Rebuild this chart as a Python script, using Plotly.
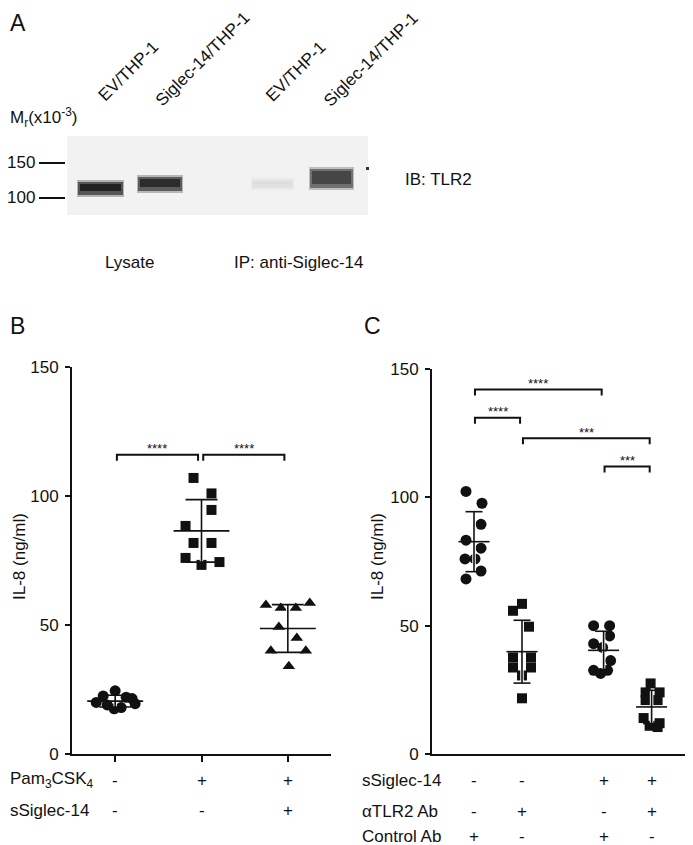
import numpy as np
import plotly.graph_objects as go

W, H = 693, 845
OFF = 8                      # page body margin of the html page
FW, FH = W - OFF, H - OFF    # figure size so that it ends at the window edge
FONT = "Liberation Sans, Arial, Helvetica, sans-serif"

# ---------------- data ----------------
# Panel A (western blot)
lane_labels = ["EV/THP-1", "Siglec-14/THP-1", "EV/THP-1", "Siglec-14/THP-1"]
mw_markers = [150, 100]
group_labels_A = ["Lysate", "IP: anti-Siglec-14"]
blot_label = "IB: TLR2"
band_intensity = [0.95, 0.9, 0.1, 0.78]

# Panel B  (IL-8, ng/ml)
b_ctrl = [24.5, 22.5, 22.0, 21.5, 20.0, 19.5, 19.0, 18.0, 17.5]
b_pam = [107.0, 101.0, 94.6, 88.4, 81.8, 81.8, 76.0, 73.3, 74.4]
b_pam_s14 = [57.8, 56.6, 56.6, 58.5, 49.2, 45.0, 40.0, 40.0, 34.0]
b_rows = ["Pam<sub>3</sub>CSK<sub>4</sub>", "sSiglec-14"]
b_signs = [["-", "+", "+"], ["-", "-", "+"]]
b_sig = [(0, 1, 116, "****"), (1, 2, 116, "****")]

# Panel C  (IL-8, ng/ml)
c_g1 = [102.3, 97.7, 89.5, 83.3, 80.2, 76.0, 76.0, 71.3, 68.2]
c_g2 = [58.5, 55.8, 49.6, 37.6, 37.6, 33.7, 33.7, 30.6, 21.7]
c_g3 = [50.0, 50.0, 46.0, 43.0, 41.5, 36.4, 32.6, 31.4, 32.6]
c_g4 = [27.5, 24.0, 24.0, 21.0, 21.0, 14.0, 12.0, 11.0, 10.5]
c_rows = ["sSiglec-14", "αTLR2 Ab", "Control Ab"]
c_signs = [["-", "-", "+", "+"], ["-", "+", "-", "+"], ["+", "-", "+", "-"]]
c_sig = [(0, 2, 142, "****"), (0, 1, 131, "****"), (1, 3, 123, "***"), (2, 3, 112, "***")]

y_label = "IL-8 (ng/ml)"
yticks = [0, 50, 100, 150]

# ---------------- layout constants ----------------
def px(x):
    return (x - OFF) / FW

def py(y):
    return 1 - (y - OFF) / FH

B_POS = [0, 1, 2]
C_POS = [0, 1, 2.7, 3.7]
B_UNIT = 86.5   # px per x unit
C_UNIT = 48.0

# beeswarm offsets (px) for each point
b_off = [
    [0, -12, 11, 17, -19, 20, -8, 6, -1],
    [-8, 10, 10, -16, -8, 10, -16, 0, 18],
    [-22, -7, 8, 22, -9, 9, -17, 18, 1],
]
c_off = [
    [-8, 8, 7, -8, 7, -9, 1, 7, -8],
    [0, -9, 7, -9, 9, -9, 9, 0, 0],
    [-10, 6, 6, -10, -1, 7, -10, -3, 4],
    [-1, -6, 8, -6, 6, -8, 8, -2, 6],
]

fig = go.Figure()

def add_group(xaxis, yaxis, pos, vals, offs, unit, symbol, size, mean_hw, cap_hw):
    xs = [pos + o / unit for o in offs]
    fig.add_trace(go.Scatter(x=xs, y=vals, mode="markers", xaxis=xaxis, yaxis=yaxis,
                             marker=dict(symbol=symbol, size=size, color="#111111",
                                         line=dict(width=0)),
                             cliponaxis=False, hoverinfo="skip"))
    v = np.array(vals)
    m = float(v.mean())
    s = float(v.std(ddof=1))
    # white halo under SD line
    fig.add_trace(go.Scatter(x=[pos, pos], y=[m - s, m + s], mode="lines",
                             xaxis=xaxis, yaxis=yaxis,
                             line=dict(color="white", width=3.5), hoverinfo="skip"))
    ex = [pos - mean_hw, pos + mean_hw, None, pos, pos, None,
          pos - cap_hw, pos + cap_hw, None, pos - cap_hw, pos + cap_hw]
    ey = [m, m, None, m - s, m + s, None, m + s, m + s, None, m - s, m - s]
    fig.add_trace(go.Scatter(x=ex, y=ey, mode="lines", xaxis=xaxis, yaxis=yaxis,
                             line=dict(color="#111111", width=1.6), hoverinfo="skip"))

# Panel B
b_groups = [(b_ctrl, "circle", 11), (b_pam, "square", 10), (b_pam_s14, "triangle-up", 11)]
for i, (vals, sym, sz) in enumerate(b_groups):
    add_group("x", "y", B_POS[i], vals, b_off[i], B_UNIT, sym, sz, 28 / B_UNIT, 16 / B_UNIT)

# Panel C
c_groups = [(c_g1, "circle", 11), (c_g2, "square", 10), (c_g3, "circle", 11), (c_g4, "square", 10)]
for i, (vals, sym, sz) in enumerate(c_groups):
    add_group("x2", "y2", C_POS[i], vals, c_off[i], C_UNIT, sym, sz, 15.5 / C_UNIT, 8.5 / C_UNIT)

shapes = []
annotations = []

def bracket(xref, yref, pos, i, j, yv, drop, label, yshift):
    x1 = pos[i] + 0.02
    x2 = pos[j] - 0.04
    shapes.append(dict(type="path", xref=xref, yref=yref,
                       path=f"M {x1},{yv - drop} L {x1},{yv} L {x2},{yv} L {x2},{yv - drop}",
                       line=dict(color="#111111", width=2)))
    annotations.append(dict(x=(x1 + x2) / 2, y=yv, xref=xref, yref=yref, text=label,
                            showarrow=False, yanchor="middle", yshift=yshift,
                            font=dict(size=13, color="#111111", family=FONT)))

for (i, j, yv, lab) in b_sig:
    bracket("x", "y", B_POS, i, j, yv, 2.3, lab, 6)
for (i, j, yv, lab) in c_sig:
    bracket("x2", "y2", C_POS, i, j, yv, 2.3, lab, 6)

TF = dict(size=17, color="#111111", family=FONT)

# row labels B
b_row_y = [780, 810]
for r, lab in enumerate(b_rows):
    annotations.append(dict(x=px(8), y=py(b_row_y[r]), xref="paper", yref="paper", text=lab,
                            xanchor="left", yanchor="middle", showarrow=False, font=TF))
    for g, sgn in enumerate(b_signs[r]):
        annotations.append(dict(x=B_POS[g], y=py(b_row_y[r]), xref="x", yref="paper",
                                text=sgn, showarrow=False, yanchor="middle", font=TF))
# row labels C
c_row_y = [780, 811, 836]
for r, lab in enumerate(c_rows):
    annotations.append(dict(x=px(360), y=py(c_row_y[r]), xref="paper", yref="paper", text=lab,
                            xanchor="left", yanchor="middle", showarrow=False, font=TF))
    for g, sgn in enumerate(c_signs[r]):
        annotations.append(dict(x=C_POS[g], y=py(c_row_y[r]), xref="x2", yref="paper",
                                text=sgn, showarrow=False, yanchor="middle", font=TF))

# y axis titles
for xc in (19, 377):
    annotations.append(dict(x=px(xc), y=py(557), xref="paper", yref="paper", text=y_label,
                            textangle=-90, showarrow=False, xanchor="center", yanchor="middle",
                            font=TF))

# panel letters
for lab, xx, yy, ya in (("A", 8, 8, "top"), ("B", 8, 326, "middle"), ("C", 362, 326, "middle")):
    annotations.append(dict(x=px(xx), y=py(yy), xref="paper", yref="paper", text=lab,
                            xanchor="left", yanchor=ya, showarrow=False,
                            font=dict(size=23, color="#111111", family=FONT)))

# ---------------- Panel A: blot ----------------
def rect(x0, y0, x1, y1, color, opacity=1.0):
    shapes.append(dict(type="rect", xref="paper", yref="paper",
                       x0=px(x0), x1=px(x1), y0=py(y1), y1=py(y0),
                       fillcolor=color, opacity=opacity, line=dict(width=0), layer="above"))

rect(67, 136, 368, 215, "#f2f2f2")

def gray(t):
    g = int(round(242 - 220 * t))
    return f"rgb({g},{g},{g})"

lane_boxes = [(78, 123, 182, 195), (138, 182, 177, 191), (252, 293, 180, 188), (310, 353, 169, 188)]
for (x0, x1, y0, y1), t in zip(lane_boxes, band_intensity):
    rect(x0 - 1, y0 - 2, x1 + 1, y1 + 2, gray(t * 0.3))
    rect(x0, y0, x1, y1, gray(t * 0.75))
    rect(x0 + 2, y0 + 2, x1 - 2, y1 - 4, gray(t))
# small dot
rect(366, 167, 369, 170, "#333333")

# MW markers
mw_y = [163, 198]
for mw, yy in zip(mw_markers, mw_y):
    shapes.append(dict(type="line", xref="paper", yref="paper", x0=px(39), x1=px(65),
                       y0=py(yy), y1=py(yy), line=dict(color="#111111", width=2)))
    annotations.append(dict(x=px(37), y=py(yy), xref="paper", yref="paper", text=str(mw),
                            xanchor="right", yanchor="middle", showarrow=False, font=TF))
annotations.append(dict(x=px(8), y=py(118), xref="paper", yref="paper",
                        text="M<sub>r</sub>(x10<sup>-3</sup>)", xanchor="left", yanchor="middle",
                        showarrow=False, font=TF))

lane_centers = [(128, 71), (202, 59), (296, 72), (371, 60)]
for lab, (cx, cy) in zip(lane_labels, lane_centers):
    annotations.append(dict(x=px(cx), y=py(cy), xref="paper", yref="paper", text=lab,
                            textangle=-45, xanchor="center", yanchor="middle",
                            showarrow=False, font=TF))

annotations.append(dict(x=px(403), y=py(180), xref="paper", yref="paper", text=blot_label,
                        xanchor="left", yanchor="middle", showarrow=False, font=TF))
for lab, cx in zip(group_labels_A, (129, 298)):
    annotations.append(dict(x=px(cx), y=py(262), xref="paper", yref="paper", text=lab,
                            xanchor="center", yanchor="middle", showarrow=False, font=TF))

axis_common = dict(showgrid=False, zeroline=False, showline=True, linecolor="#111111",
                   linewidth=2)
fig.update_layout(
    width=FW, height=FH, margin=dict(l=0, r=0, t=0, b=0, autoexpand=False),
    paper_bgcolor="white", plot_bgcolor="white", showlegend=False,
    font=dict(family=FONT, color="#111111"),
    xaxis=dict(domain=[px(72), px(331)], range=[-0.5, 2.5], tickvals=B_POS,
               ticks="outside", ticklen=6, tickwidth=2, tickcolor="#111111",
               showticklabels=False, anchor="y", automargin=False, **axis_common),
    yaxis=dict(domain=[py(754), py(367)], range=[0, 150], tickvals=yticks,
               ticks="outside", ticklen=5, tickwidth=2, tickcolor="#111111",
               tickfont=TF, anchor="x", automargin=False, ticklabelstandoff=3,
               **axis_common),
    xaxis2=dict(domain=[px(432), px(690)], range=[-0.875, 4.5], ticks="",
                showticklabels=False, anchor="y2", automargin=False, **axis_common),
    yaxis2=dict(domain=[py(754), py(369)], range=[0, 150], tickvals=yticks,
                ticks="outside", ticklen=5, tickwidth=2, tickcolor="#111111",
                tickfont=TF, anchor="x2", automargin=False, ticklabelstandoff=3,
                **axis_common),
    shapes=shapes, annotations=annotations,
)

fig.write_html("out.html")
